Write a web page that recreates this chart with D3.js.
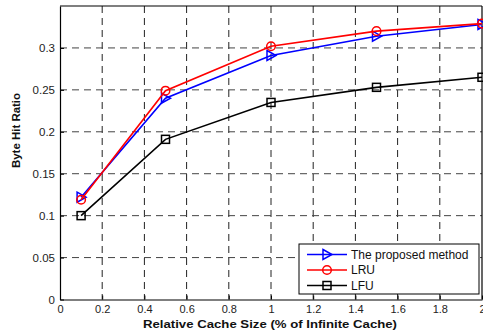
<!DOCTYPE html>
<html>
<head>
<meta charset="utf-8">
<script src="https://cdn.jsdelivr.net/npm/d3@7/dist/d3.min.js"></script>
<style>
  html, body { margin: 0; padding: 0; background: #fff; }
  svg { display: block; }
  text { font-family: "Liberation Sans", Arial, Helvetica, sans-serif; }
</style>
</head>
<body>
<svg id="chart" width="483" height="332"></svg>
<script>
// Cache sizes (relative, % of infinite cache)
const cacheSizes = [0.1, 0.5, 1, 1.5, 2];
// Byte hit ratio per replacement policy
const proposedValues = [0.122, 0.240, 0.291, 0.314, 0.328];
const lruValues      = [0.119, 0.249, 0.302, 0.320, 0.329];
const lfuValues      = [0.100, 0.191, 0.235, 0.253, 0.265];
const seriesNames = ["The proposed method", "LRU", "LFU"];
const xTicks = [0, 0.2, 0.4, 0.6, 0.8, 1, 1.2, 1.4, 1.6, 1.8, 2];
const yTicks = [0, 0.05, 0.1, 0.15, 0.2, 0.25, 0.3];

const series = [
  { name: seriesNames[0], values: proposedValues, color: "#0000ff", marker: "triangle" },
  { name: seriesNames[1], values: lruValues, color: "#ff0000", marker: "circle" },
  { name: seriesNames[2], values: lfuValues, color: "#000000", marker: "square" }
];

const svg = d3.select("#chart");
const plotLeft = 60, plotRight = 482, plotTop = 6, plotBottom = 299.5;

const x = d3.scaleLinear().domain([0, 2]).range([plotLeft, plotRight]);
const y = d3.scaleLinear().domain([0, 0.35]).range([plotBottom, plotTop]);

// dashed grid
const grid = svg.append("g");
grid.selectAll("line.gx").data(xTicks.slice(1, -1)).join("line")
  .attr("x1", d => x(d)).attr("x2", d => x(d))
  .attr("y1", plotTop).attr("y2", plotBottom)
  .attr("stroke", "#222").attr("stroke-width", 1).attr("stroke-dasharray", "7,5");
grid.selectAll("line.gy").data(yTicks.slice(1)).join("line")
  .attr("x1", plotLeft).attr("x2", plotRight)
  .attr("y1", d => y(d)).attr("y2", d => y(d))
  .attr("stroke", "#444").attr("stroke-width", 1).attr("stroke-dasharray", "7,5");

// axes with inward ticks
const xAxis = d3.axisBottom(x).tickValues(xTicks).tickSizeInner(-4).tickSizeOuter(0)
  .tickFormat(d => String(+d.toFixed(1)));
const gx = svg.append("g").attr("transform", `translate(0,${plotBottom})`).call(xAxis);
gx.select(".domain").attr("stroke", "#000").attr("stroke-width", 1.2);
gx.selectAll("text").attr("font-size", 11).attr("fill", "#222").attr("dy", "0.95em");

const yAxis = d3.axisLeft(y).tickValues(yTicks).tickSizeInner(-4).tickSizeOuter(0).tickPadding(5)
  .tickFormat(d => String(+d.toFixed(2)));
const gy = svg.append("g").attr("transform", `translate(${plotLeft},0)`).call(yAxis);
gy.select(".domain").attr("stroke", "#000").attr("stroke-width", 1.2);
gy.selectAll("text").attr("font-size", 11.5).attr("fill", "#222");

// top and right frame
svg.append("line").attr("x1", plotLeft).attr("x2", plotRight).attr("y1", plotTop).attr("y2", plotTop)
  .attr("stroke", "#000").attr("stroke-width", 1.2);
svg.append("line").attr("x1", plotRight).attr("x2", plotRight).attr("y1", plotTop).attr("y2", plotBottom)
  .attr("stroke", "#000").attr("stroke-width", 1.2);

function drawMarker(g, type, cx, cy, color) {
  if (type === "triangle") {
    g.append("path").attr("d", `M${cx - 4},${cy - 5}L${cx + 5},${cy}L${cx - 4},${cy + 5}Z`)
      .attr("fill", "none").attr("stroke", color).attr("stroke-width", 1.5);
  } else if (type === "circle") {
    g.append("circle").attr("cx", cx).attr("cy", cy).attr("r", 4.3)
      .attr("fill", "none").attr("stroke", color).attr("stroke-width", 1.5);
  } else {
    g.append("rect").attr("x", cx - 4).attr("y", cy - 4).attr("width", 8).attr("height", 8)
      .attr("fill", "none").attr("stroke", color).attr("stroke-width", 1.5);
  }
}

const line = d3.line().x((d, i) => x(cacheSizes[i])).y(d => y(d));
series.forEach(s => {
  const g = svg.append("g");
  g.append("path").datum(s.values).attr("d", line)
    .attr("fill", "none").attr("stroke", s.color).attr("stroke-width", 1.6);
  s.values.forEach((v, i) => drawMarker(g, s.marker, x(cacheSizes[i]), y(v), s.color));
});

// axis titles
svg.append("text").attr("x", 270).attr("y", 328).attr("text-anchor", "middle")
  .attr("font-size", 11).attr("font-weight", "bold").attr("fill", "#111")
  .attr("textLength", 254).attr("lengthAdjust", "spacingAndGlyphs")
  .text("Relative Cache Size (% of Infinite Cache)");
svg.append("text").attr("transform", "translate(19.5,130.5) rotate(-90)").attr("text-anchor", "middle")
  .attr("font-size", 11).attr("font-weight", "bold").attr("fill", "#111")
  .attr("textLength", 75).attr("lengthAdjust", "spacingAndGlyphs")
  .text("Byte Hit Ratio");

// legend
const lg = svg.append("g");
lg.append("rect").attr("x", 299).attr("y", 244).attr("width", 180).attr("height", 50)
  .attr("fill", "#fff").attr("stroke", "#000").attr("stroke-width", 1);
series.forEach((s, i) => {
  const ly = 254.5 + i * 15.5;
  lg.append("line").attr("x1", 307).attr("x2", 347).attr("y1", ly).attr("y2", ly)
    .attr("stroke", s.color).attr("stroke-width", 1.6);
  drawMarker(lg, s.marker, 327, ly, s.color);
  lg.append("text").attr("x", 351).attr("y", ly).attr("dy", "0.36em")
    .attr("font-size", 12).attr("fill", "#111").text(s.name);
});
</script>
</body>
</html>
